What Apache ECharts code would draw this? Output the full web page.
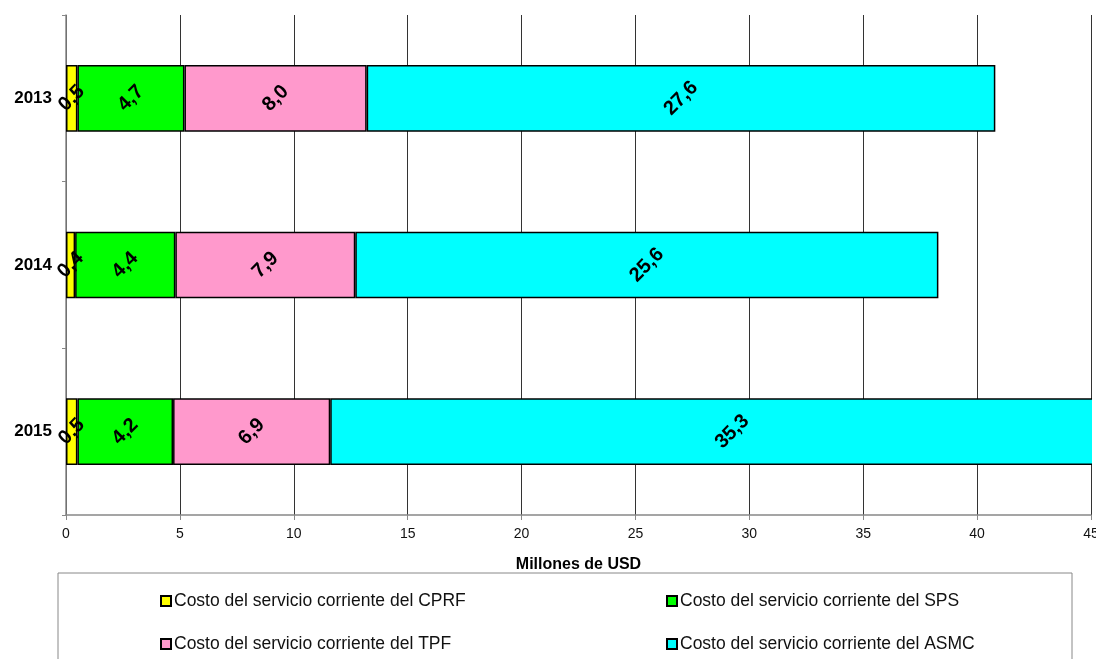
<!DOCTYPE html>
<html>
<head>
<meta charset="utf-8">
<script src="https://cdn.jsdelivr.net/npm/echarts@6/dist/echarts.min.js"></script>
<style>
  html, body { margin: 0; padding: 0; background: #fff; }
  #chart { width: 1096px; height: 659px; }
</style>
</head>
<body>
<div id="chart"></div>
<script>
// años (de arriba hacia abajo)
const years = ['2013', '2014', '2015'];
const cprf = [0.5, 0.4, 0.5];
const sps = [4.7, 4.4, 4.2];
const tpf = [8.0, 7.9, 6.9];
const asmc = [27.6, 25.6, 35.3];
const names = [
  'Costo del servicio corriente del CPRF',
  'Costo del servicio corriente del SPS',
  'Costo del servicio corriente del TPF',
  'Costo del servicio corriente del ASMC'
];
const colors = ['#FFFF00', '#00FF00', '#FF99CC', '#00FFFF'];

const chart = echarts.init(document.getElementById('chart'));

function mkSeries(name, data, color) {
  return {
    name: name,
    type: 'bar',
    stack: 'total',
    barWidth: '40%',
    clip: false, // la etiqueta de 35,3 va centrada en el segmento completo
    data: data,
    itemStyle: { color: color, borderColor: '#000', borderWidth: 1.5 },
    label: {
      show: true,
      position: 'inside',
      rotate: 45,
      color: '#000',
      fontFamily: 'Liberation Sans, Arial',
      fontWeight: 'bold',
      fontSize: 20,
      formatter: p => p.value.toFixed(1).replace('.', ',')
    }
  };
}

// leyenda: una por serie para poder ubicarlas en dos columnas
const legendPos = [[155, 587], [661, 587], [155, 630], [661, 630]];
const legends = names.map((n, i) => ({
  data: [n],
  left: legendPos[i][0],
  top: legendPos[i][1],
  icon: 'rect',
  itemWidth: 10,
  itemHeight: 10,
  itemGap: 0,
  selectedMode: false,
  textStyle: { fontSize: 17.5, color: '#111', fontFamily: 'Liberation Sans, Arial', padding: [0, 0, 0, -2] }
}));

const option = {
  backgroundColor: '#fff',
  animation: false,
  color: colors,
  grid: { left: 66, right: 5, top: 15, bottom: 144, outerBoundsMode: 'none', containLabel: false },
  legend: legends,
  graphic: [
    {
      // tapa lo que sobresale del eje a la derecha (45)
      type: 'rect',
      shape: { x: 1092, y: 380, width: 10, height: 100 },
      style: { fill: '#fff' },
      z: 100,
      silent: true
    },
    {
      type: 'rect',
      shape: { x: 58, y: 573, width: 1014, height: 100 },
      style: { fill: 'none', stroke: '#888', lineWidth: 1 },
      silent: true
    }
  ],
  xAxis: {
    type: 'value',
    min: 0,
    max: 45,
    interval: 5,
    name: 'Millones de USD',
    nameLocation: 'middle',
    nameGap: 42,
    nameTextStyle: { fontFamily: 'Liberation Sans, Arial', fontWeight: 'bold', fontSize: 16, color: '#000' },
    axisLine: { show: true, lineStyle: { color: '#888', width: 1.5 } },
    axisTick: { show: true, length: 5, lineStyle: { color: '#888' } },
    axisLabel: { fontFamily: 'Liberation Sans, Arial', fontSize: 14, color: '#111', margin: 12 },
    splitLine: { show: true, lineStyle: { color: '#333', width: 1 } }
  },
  yAxis: {
    type: 'category',
    inverse: true,
    data: years,
    axisLine: { show: true, lineStyle: { color: '#888', width: 1.5 } },
    axisTick: { show: true, length: 4, lineStyle: { color: '#888' } },
    axisLabel: { fontFamily: 'Liberation Sans, Arial', fontWeight: 'bold', fontSize: 17, color: '#000', margin: 14 }
  },
  series: [
    mkSeries(names[0], cprf, colors[0]),
    mkSeries(names[1], sps, colors[1]),
    mkSeries(names[2], tpf, colors[2]),
    mkSeries(names[3], asmc, colors[3])
  ]
};

chart.setOption(option);
</script>
</body>
</html>
